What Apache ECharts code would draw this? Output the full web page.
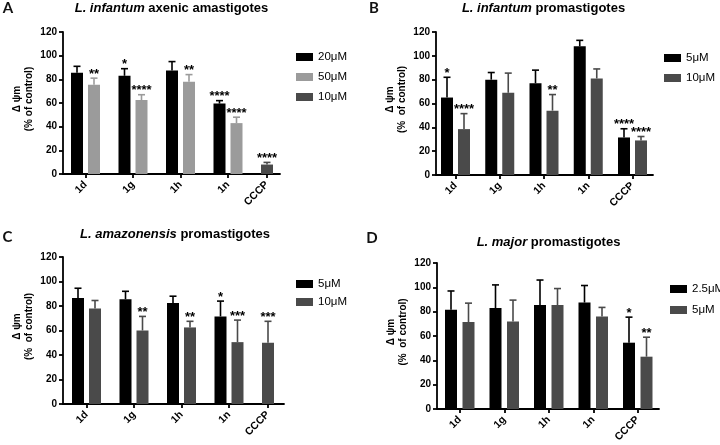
<!DOCTYPE html>
<html>
<head>
<meta charset="utf-8">
<script src="https://cdn.jsdelivr.net/npm/echarts@6/dist/echarts.min.js"></script>
<style>html,body{margin:0;padding:0;background:#fff}#c{width:720px;height:445px}</style>
</head>
<body>
<div id="c"></div>
<script>
// ---------------- DATA ----------------
const categories = ['1d', '1g', '1h', '1n', 'CCCP'];

// Panel A: L. infantum axenic amastigotes
const aSpecies = 'L. infantum';
const aRest = 'axenic amastigotes';
const aYName = 'Δ ψm\n(% of control)';
const a20Mean = [85.5, 83, 87.5, 59.5, null];
const a20Sd   = [5.5, 6, 7.5, 2.5, null];
const a20Sig  = ['', '*', '', '****', ''];
const a50Mean = [75.5, 62.5, 78, 43, null];
const a50Sd   = [5.5, 4.5, 6, 5, null];
const a50Sig  = ['**', '****', '**', '****', ''];
const a10Mean = [null, null, null, null, 8];
const a10Sd   = [null, null, null, null, 1.8];
const a10Sig  = ['', '', '', '', '****'];

// Panel B: L. infantum promastigotes
const bSpecies = 'L. infantum';
const bRest = 'promastigotes';
const bYName = 'Δ ψm\n(%  of control)';
const b5Mean  = [65, 80, 77, 108, 31.5];
const b5Sd    = [17, 6, 11, 5, 7.3];
const b5Sig   = ['*', '', '', '', '****'];
const b10Mean = [38.5, 69, 54, 81, 29];
const b10Sd   = [13, 16.5, 13.5, 8, 3.3];
const b10Sig  = ['****', '', '**', '', '****'];

// Panel C: L. amazonensis promastigotes
const cSpecies = 'L. amazonensis';
const cRest = 'promastigotes';
const cYName = 'Δ ψm\n(%  of control)';
const c5Mean  = [86.5, 85.5, 82.5, 71.5, null];
const c5Sd    = [8, 6.5, 5.5, 12.5, null];
const c5Sig   = ['', '', '', '*', ''];
const c10Mean = [78, 60, 62.5, 50.5, 50];
const c10Sd   = [6.5, 11.5, 5, 18, 17.5];
const c10Sig  = ['', '**', '**', '***', '***'];

// Panel D: L. major promastigotes
const dSpecies = 'L. major';
const dRest = 'promastigotes';
const dYName = 'Δ ψm\n(%  of control)';
const d25Mean = [81.5, 83, 85.5, 87.5, 54.5];
const d25Sd   = [15.5, 19, 20.5, 14, 21];
const d25Sig  = ['', '', '', '', '*'];
const d5Mean  = [71.5, 72, 85.5, 76, 43];
const d5Sd    = [15.5, 17.5, 13.5, 7.5, 16];
const d5Sig   = ['', '', '', '', '**'];

// ---------------- STYLE / LAYOUT ----------------
const FONT = "'Liberation Sans', Arial, sans-serif";
const BLACK = '#000000', LIGHT = '#9b9b9b', DARK = '#4a4a4a';

const panelDefs = [
  { letter: 'A', letterPos: [8, 8], species: aSpecies, rest: aRest, titlePos: [171.5, 8], yName: aYName,
    grid: { left: 63, top: 32, height: 142 }, bars: { lead: 8, bw: 12, ig: 5, gg: 18.5, trail: 7 },
    legend: { left: 296, top: 51, gap: 8 },
    series: [
      { name: '20μM', color: BLACK, mean: a20Mean, sd: a20Sd, sig: a20Sig },
      { name: '50μM', color: LIGHT, mean: a50Mean, sd: a50Sd, sig: a50Sig },
      { name: '10μM', color: DARK,  mean: a10Mean, sd: a10Sd, sig: a10Sig }
    ] },
  { letter: 'B', letterPos: [374, 8], species: bSpecies, rest: bRest, titlePos: [543.5, 8], yName: bYName,
    grid: { left: 436, top: 32, height: 143 }, bars: { lead: 5, bw: 12, ig: 5, gg: 15.25, trail: 6 },
    legend: { left: 664, top: 52, gap: 8 },
    series: [
      { name: '5μM',  color: BLACK, mean: b5Mean,  sd: b5Sd,  sig: b5Sig },
      { name: '10μM', color: DARK,  mean: b10Mean, sd: b10Sd, sig: b10Sig }
    ] },
  { letter: 'C', letterPos: [7.5, 237.5], species: cSpecies, rest: cRest, titlePos: [175, 234.5], yName: cYName,
    grid: { left: 63, top: 257, height: 147 }, bars: { lead: 9, bw: 12, ig: 5, gg: 18.5, trail: 10 },
    legend: { left: 296, top: 278, gap: 6 },
    series: [
      { name: '5μM',  color: BLACK, mean: c5Mean,  sd: c5Sd,  sig: c5Sig },
      { name: '10μM', color: DARK,  mean: c10Mean, sd: c10Sd, sig: c10Sig }
    ] },
  { letter: 'D', letterPos: [372, 238], species: dSpecies, rest: dRest, titlePos: [548.5, 242], yName: dYName,
    grid: { left: 437, top: 263, height: 146 }, bars: { lead: 8, bw: 12, ig: 5.5, gg: 15, trail: 6.5 },
    legend: { left: 670, top: 283, gap: 9 },
    series: [
      { name: '2.5μM', color: BLACK, mean: d25Mean, sd: d25Sd, sig: d25Sig },
      { name: '5μM',   color: DARK,  mean: d5Mean,  sd: d5Sd,  sig: d5Sig }
    ] }
];

// GraphPad-like sequential group layout derived from which bars are present
function layoutGroups(seriesMeans, L) {
  let x = L.lead;
  const barX = seriesMeans.map(() => []);
  const tickX = [];
  categories.forEach((c, ci) => {
    const present = [];
    seriesMeans.forEach((m, si) => { if (m[ci] != null) present.push(si); });
    if (ci > 0) x += L.gg;
    const start = x;
    present.forEach((si, k) => {
      barX[si][ci] = x + L.bw / 2;
      x += L.bw + (k < present.length - 1 ? L.ig : 0);
    });
    tickX.push((start + x) / 2);
  });
  return { barX, tickX, total: x + L.trail };
}

const option = { animation: false, backgroundColor: '#ffffff', grid: [], xAxis: [], yAxis: [], legend: [], series: [], graphic: [] };
const axisLineStyle = { color: '#000', width: 1.8 };

panelDefs.forEach((p, pi) => {
  const L = layoutGroups(p.series.map(s => s.mean), p.bars);
  option.grid.push({ left: p.grid.left, top: p.grid.top, width: L.total, height: p.grid.height, outerBoundsMode: 'none', containLabel: false });
  option.xAxis.push({
    type: 'value', gridIndex: pi, min: 0, max: L.total,
    splitLine: { show: false },
    axisLine: { show: true, onZero: false, lineStyle: axisLineStyle },
    axisTick: { show: true, customValues: L.tickX, length: 4, lineStyle: axisLineStyle },
    axisLabel: {
      customValues: L.tickX, rotate: 45, margin: 9, fontSize: 10.5, fontWeight: 'bold', color: '#000', fontFamily: FONT,
      formatter: v => { let best = 0; L.tickX.forEach((t, i) => { if (Math.abs(t - v) < Math.abs(L.tickX[best] - v)) best = i; }); return categories[best]; }
    }
  });
  option.yAxis.push({
    type: 'value', gridIndex: pi, min: 0, max: 120, interval: 20,
    splitLine: { show: false },
    axisLine: { show: true, lineStyle: axisLineStyle },
    axisTick: { show: true, length: 4, lineStyle: axisLineStyle },
    axisLabel: { fontSize: 10, fontWeight: 'bold', color: '#000', margin: 6, fontFamily: FONT },
    name: p.yName, nameLocation: 'middle', nameGap: 28,
    nameTextStyle: { fontSize: 10, fontWeight: 'bold', color: '#000', lineHeight: 12, fontFamily: FONT, padding: [0, 0, 0, 8] }
  });
  option.legend.push({
    orient: 'vertical', left: p.legend.left, top: p.legend.top, itemGap: p.legend.gap,
    itemWidth: 17, itemHeight: 8, icon: 'rect', selectedMode: false, padding: 0,
    data: p.series.map(s => ({ name: s.name, itemStyle: { color: s.color } })),
    textStyle: { fontSize: 11.5, color: '#000', fontFamily: FONT, lineHeight: 12 }
  });
  p.series.forEach((s, si) => {
    const items = [];
    s.mean.forEach((m, ci) => { if (m != null) items.push({ x: L.barX[si][ci], v: m, e: s.sd[ci], sig: s.sig[ci] }); });
    option.series.push({
      type: 'custom', name: s.name, xAxisIndex: pi, yAxisIndex: pi,
      itemStyle: { color: s.color },
      data: items.map(it => [it.x, it.v, it.v + it.e]),
      encode: { x: 0, y: [1, 2] },
      renderItem: (params, api) => {
        const it = items[params.dataIndex];
        const b = api.coord([it.x, 0]);
        const t = api.coord([it.x, it.v]);
        const e = api.coord([it.x, it.v + it.e]);
        const w = api.size([p.bars.bw, 0])[0];
        const cap = api.size([7, 0])[0];
        return {
          type: 'group',
          children: [
            { type: 'rect', shape: { x: b[0] - w / 2, y: t[1], width: w, height: b[1] - t[1] }, style: { fill: s.color } },
            { type: 'line', shape: { x1: t[0], y1: t[1], x2: t[0], y2: e[1] }, style: { stroke: s.color, lineWidth: 1.6 } },
            { type: 'line', shape: { x1: e[0] - cap / 2, y1: e[1], x2: e[0] + cap / 2, y2: e[1] }, style: { stroke: s.color, lineWidth: 1.6 } },
            { type: 'text', x: e[0], y: e[1] - 4, style: { text: it.sig, align: 'center', verticalAlign: 'middle', fontSize: 13, fontWeight: 'bold', fontFamily: FONT, fill: '#000' } }
          ]
        };
      }
    });
  });
  option.graphic.push({
    type: 'text', x: p.titlePos[0], y: p.titlePos[1],
    style: {
      text: '{i|' + p.species + '} ' + p.rest,
      rich: { i: { fontStyle: 'italic', fontWeight: 'bold', fontSize: 13, fontFamily: FONT, fill: '#000' } },
      align: 'center', verticalAlign: 'middle', fontSize: 13, fontWeight: 'bold', fontFamily: FONT, fill: '#000'
    }
  });
  option.graphic.push({
    type: 'text', x: p.letterPos[0], y: p.letterPos[1],
    style: { text: p.letter, align: 'center', verticalAlign: 'middle', fontSize: 15, fontWeight: 'bold', fontFamily: "Lato, 'Open Sans', sans-serif", fill: '#111' }
  });
});

const chart = echarts.init(document.getElementById('c'), null, { renderer: 'canvas' });
chart.setOption(option);
</script>
</body>
</html>
